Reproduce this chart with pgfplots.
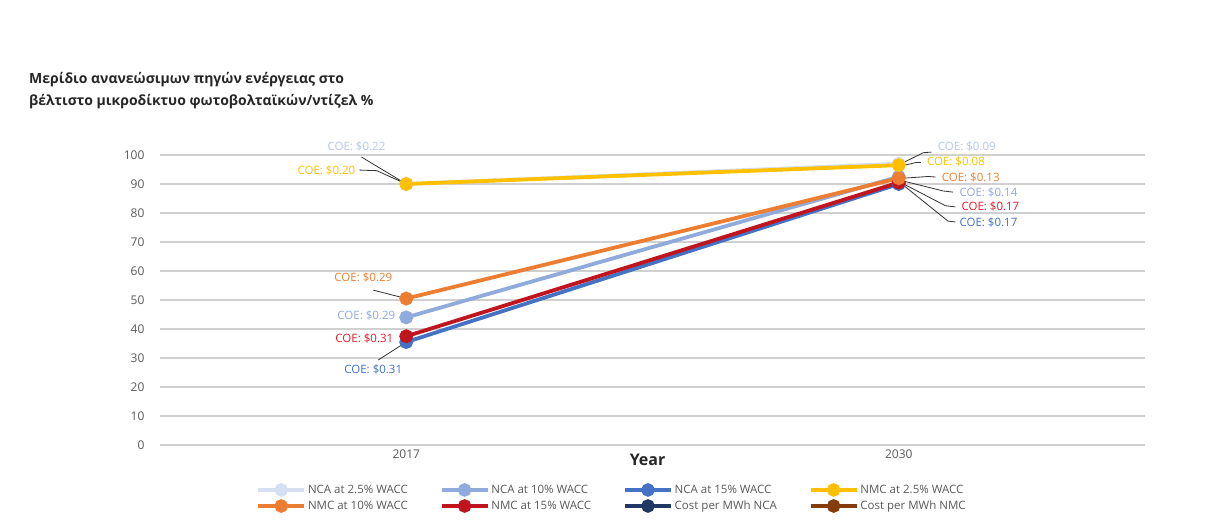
\documentclass[border=0pt]{standalone}
\usepackage{fontspec}
\setmainfont{Open Sans}
\usepackage{pgfplots}
\pgfplotsset{compat=1.18}
\definecolor{ncaA}{HTML}{D6E0F2}
\definecolor{ncaB}{HTML}{8FAADC}
\definecolor{ncaC}{HTML}{4472C4}
\definecolor{nmcA}{HTML}{FFC000}
\definecolor{nmcB}{HTML}{ED7D31}
\definecolor{nmcC}{HTML}{C0141E}
\definecolor{costA}{HTML}{1F3864}
\definecolor{costB}{HTML}{843C0C}
\definecolor{labA}{HTML}{B4C7E7}
\definecolor{labRed}{HTML}{E8192C}
\definecolor{ticktext}{HTML}{595959}
\definecolor{titletext}{HTML}{262626}
\definecolor{gridc}{HTML}{D0D0D0}
\begin{document}
\begin{tikzpicture}
\path[use as bounding box] (0pt,0pt) rectangle (1215pt,531pt);
\node[anchor=west, font=\bfseries\fontsize{14}{16}\selectfont, text=titletext, inner sep=0pt] at (29pt,451pt) {Μερίδιο ανανεώσιμων πηγών ενέργειας στο};
\node[anchor=west, font=\bfseries\fontsize{14}{16}\selectfont, text=titletext, inner sep=0pt] at (29pt,429pt) {βέλτιστο μικροδίκτυο φωτοβολταϊκών/ντίζελ \%};
\begin{axis}[
  at={(160pt,86pt)}, anchor=south west, scale only axis,
  width=985pt, height=290pt,
  xmin=-0.5, xmax=1.5, ymin=0, ymax=100,
  clip=false,
  axis line style={draw=none},
  major tick length=0pt,
  xtick={0,1}, xticklabels={2017,2030},
  ytick={0,10,...,100},
  /pgf/number format/assume math mode=true,
  ymajorgrids, grid style={gridc, line width=1.2pt},
  tick label style={font=\fontsize{12}{14}\selectfont, text=ticktext},
  yticklabel style={anchor=east, xshift=-12pt},
  xticklabel style={yshift=-1pt},
  legend columns=4,
  legend style={at={(axis description cs:0.459,-0.183)}, anchor=center, draw=none, font=\fontsize{11.5}{13}\selectfont, text=ticktext, /tikz/every even column/.append style={column sep=30pt}, row sep=2pt},
  legend cell align=left,
  legend image code/.code={\draw[#1, mark repeat=2, mark phase=2] plot coordinates {(0pt,0pt) (23pt,0pt) (46pt,0pt)};},
]
\addlegendimage{ncaA, line width=3.5pt, mark=*, mark size=5pt}
\addlegendentry{NCA at 2.5\% WACC}
\addlegendimage{ncaB, line width=3.5pt, mark=*, mark size=5pt}
\addlegendentry{NCA at 10\% WACC}
\addlegendimage{ncaC, line width=3.5pt, mark=*, mark size=5pt}
\addlegendentry{NCA at 15\% WACC}
\addlegendimage{nmcA, line width=3.5pt, mark=*, mark size=5pt}
\addlegendentry{NMC at 2.5\% WACC}
\addlegendimage{nmcB, line width=3.5pt, mark=*, mark size=5pt}
\addlegendentry{NMC at 10\% WACC}
\addlegendimage{nmcC, line width=3.5pt, mark=*, mark size=5pt}
\addlegendentry{NMC at 15\% WACC}
\addlegendimage{costA, line width=3.5pt, mark=*, mark size=5pt}
\addlegendentry{Cost per MWh NCA}
\addlegendimage{costB, line width=3.5pt, mark=*, mark size=5pt}
\addlegendentry{Cost per MWh NMC}

\addplot[ncaA, line width=3.8pt, mark=*, mark size=5pt, forget plot] coordinates {(0,90) (1,97)};
\addplot[ncaB, line width=3.8pt, mark=*, mark size=5pt, forget plot] coordinates {(0,44) (1,92.5)};
\addplot[ncaC, line width=3.8pt, mark=*, mark size=5pt, forget plot] coordinates {(0,35.5) (1,90)};
\addplot[nmcC, line width=3.8pt, mark=*, mark size=5pt, forget plot] coordinates {(0,37.5) (1,90.5)};
\addplot[nmcB, line width=3.8pt, mark=*, mark size=5pt, forget plot] coordinates {(0,50.5) (1,92)};
\addplot[nmcA, line width=3.8pt, mark=*, mark size=5pt, forget plot] coordinates {(0,90) (1,96.5)};

% leader lines 2017
\draw[black!80, line width=0.8pt] (axis cs:-0.091,99.3) -- (axis cs:0,90);
\draw[black!80, line width=0.8pt] (axis cs:-0.095,94.8) -- (axis cs:-0.06,94.6) -- (axis cs:0,90);
\draw[black!80, line width=0.8pt] (axis cs:-0.067,53.4) -- (axis cs:0,50.5);
\draw[black!80, line width=0.8pt] (axis cs:-0.057,29.3) -- (axis cs:0,35.5);
% leader lines 2030
\draw[black!80, line width=0.8pt] (axis cs:1,96.6) -- (axis cs:1.05,100.8) -- (axis cs:1.066,101);
\draw[black!80, line width=0.8pt] (axis cs:1.01,96.4) -- (axis cs:1.035,97.4) -- (axis cs:1.045,97.4);
\draw[black!80, line width=0.8pt] (axis cs:1.01,92) -- (axis cs:1.06,92.6) -- (axis cs:1.075,92.4);
\draw[black!80, line width=0.8pt] (axis cs:1.01,91) -- (axis cs:1.09,87.6) -- (axis cs:1.11,87.2);
\draw[black!80, line width=0.8pt] (axis cs:1.01,90) -- (axis cs:1.095,82.5) -- (axis cs:1.115,82.1);
\draw[black!80, line width=0.8pt] (axis cs:1.01,89.5) -- (axis cs:1.1,77.2) -- (axis cs:1.115,76.9);

% labels 2017
\tikzset{coe/.style={font=\fontsize{11.5}{13}\selectfont, inner sep=1pt}}
\node[coe, anchor=east, text=labA] at (axis cs:-0.04,102.8) {COE: \$0.22};
\node[coe, anchor=east, text=nmcA] at (axis cs:-0.101,94.8) {COE: \$0.20};
\node[coe, anchor=east, text=nmcB] at (axis cs:-0.026,57.6) {COE: \$0.29};
\node[coe, anchor=east, text=ncaB] at (axis cs:-0.02,44.5) {COE: \$0.29};
\node[coe, anchor=east, text=labRed] at (axis cs:-0.024,36.9) {COE: \$0.31};
\node[coe, anchor=center, text=ncaC] at (axis cs:-0.067,25.9) {COE: \$0.31};
% labels 2030
\node[coe, anchor=west, text=labA] at (axis cs:1.077,102.8) {COE: \$0.09};
\node[coe, anchor=west, text=nmcA] at (axis cs:1.055,97.6) {COE: \$0.08};
\node[coe, anchor=west, text=nmcB] at (axis cs:1.085,92.4) {COE: \$0.13};
\node[coe, anchor=west, text=ncaB] at (axis cs:1.121,87.2) {COE: \$0.14};
\node[coe, anchor=west, text=labRed] at (axis cs:1.125,82.1) {COE: \$0.17};
\node[coe, anchor=west, text=ncaC] at (axis cs:1.121,76.9) {COE: \$0.17};

\node[font=\bfseries\fontsize{16}{18}\selectfont, text=titletext] at (axis cs:0.49,-5) {Year};
\end{axis}
\end{tikzpicture}
\end{document}
